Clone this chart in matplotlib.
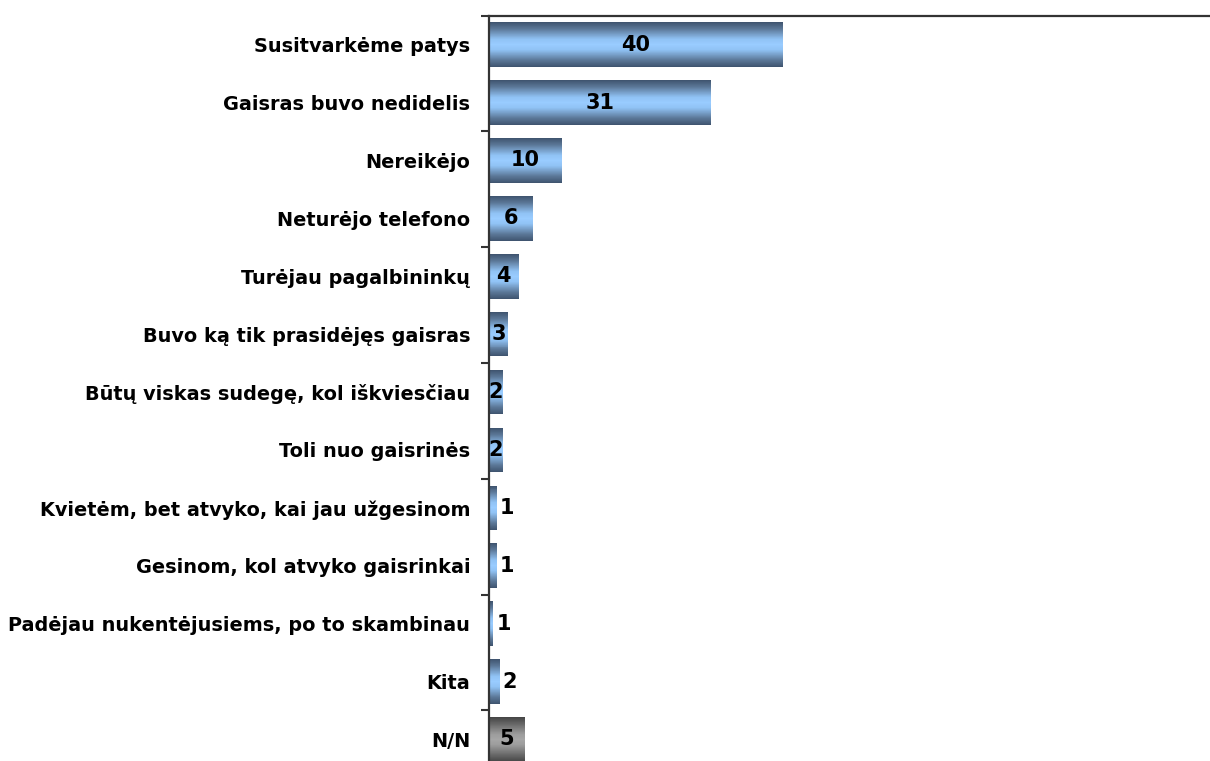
import numpy as np
import matplotlib
matplotlib.use("Agg")
import matplotlib.pyplot as plt
from matplotlib.colors import LinearSegmentedColormap

categories = [
    "Susitvarkėme patys",
    "Gaisras buvo nedidelis",
    "Nereikėjo",
    "Neturėjo telefono",
    "Turėjau pagalbininkų",
    "Buvo ką tik prasidėjęs gaisras",
    "Būtų viskas sudegę, kol iškviesčiau",
    "Toli nuo gaisrinės",
    "Kvietėm, bet atvyko, kai jau užgesinom",
    "Gesinom, kol atvyko gaisrinkai",
    "Padėjau nukentėjusiems, po to skambinau",
    "Kita",
    "N/N",
]
values = [40.0, 30.3, 10.0, 6.05, 4.05, 2.65, 1.85, 1.85, 1.05, 1.05, 0.6, 1.45, 4.85]
value_labels = ["40", "31", "10", "6", "4", "3", "2", "2", "1", "1", "1", "2", "5"]

plt.rcParams['font.family'] = ['DejaVu Sans']

fig = plt.figure(figsize=(12.1, 7.61), dpi=100)
ax = fig.add_axes([0.4041, -0.0097, 0.5959, 0.9891])

blue_cmap = LinearSegmentedColormap.from_list(
    "blue", [(0.0, "#3e536e"), (0.15, "#5b7797"), (0.38, "#90c2f4"),
             (0.5, "#99ccff"), (0.62, "#90c2f4"), (0.85, "#5b7797"),
             (1.0, "#3e536e")])
gray_cmap = LinearSegmentedColormap.from_list(
    "gray", [(0.0, "#444444"), (0.15, "#666666"), (0.38, "#9c9c9c"),
             (0.5, "#a6a6a6"), (0.62, "#9c9c9c"), (0.85, "#666666"),
             (1.0, "#444444")])

y = np.arange(len(categories))
bar_h = 0.77
n_strips = 45
edges = np.linspace(-bar_h / 2, bar_h / 2, n_strips + 1)
centers = (edges[:-1] + edges[1:]) / 2
strip_h = edges[1] - edges[0]
fracs = (centers - edges[0]) / bar_h

for i, v in enumerate(values):
    cmap = gray_cmap if categories[i] == "N/N" else blue_cmap
    ax.barh(y[i] + centers, [v] * n_strips, height=strip_h * 1.02,
            color=cmap(fracs), edgecolor='none', linewidth=0, zorder=2)

ax.set_xlim(0, 98.2)
ax.set_ylim(len(categories) - 0.5, -0.5)

for i, (v, lab) in enumerate(zip(values, value_labels)):
    if v >= 1.6:
        ax.text(v / 2, i, lab, ha='center', va='center', fontsize=15,
                fontweight='bold', color='black', zorder=3)
    else:
        ax.annotate(lab, (v, i), xytext=(3, 0), textcoords='offset pixels',
                    ha='left', va='center', fontsize=15, fontweight='bold',
                    color='black', zorder=3)

ax.set_yticks(y)
ax.set_yticklabels(categories, fontsize=13.9, fontweight='bold')
ax.tick_params(axis='y', which='major', length=0, pad=13.5)
ax.set_yticks(np.arange(-0.5, len(categories), 2), minor=True)
ax.tick_params(axis='y', which='minor', length=6, width=1.5, color='#333333',
               direction='out')
ax.set_xticks([])

for s in ['right', 'bottom']:
    ax.spines[s].set_visible(False)
for s in ['left', 'top']:
    ax.spines[s].set_color('#333333')
    ax.spines[s].set_linewidth(1.6)
    ax.spines[s].set_zorder(4)

ax.set_facecolor('none')
fig.savefig("out.png", dpi=100)
